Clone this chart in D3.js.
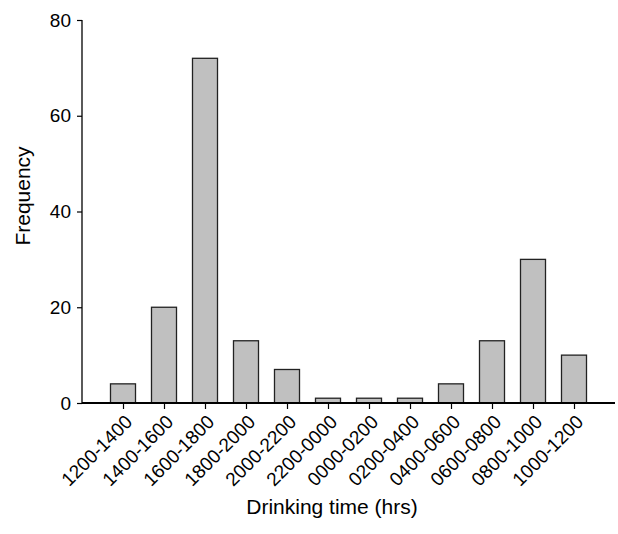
<!DOCTYPE html>
<html>
<head>
<meta charset="utf-8">
<script src="https://cdn.jsdelivr.net/npm/d3@7"></script>
<style>
  body { margin: 0; background: #fff; }
  text { font-family: "Liberation Sans", Arial, Helvetica, sans-serif; fill: #000; }
</style>
</head>
<body>
<div id="chart"></div>
<script>
// drinking time bins and how often each occurred
var categories = ["1200-1400", "1400-1600", "1600-1800", "1800-2000", "2000-2200", "2200-0000",
                  "0000-0200", "0200-0400", "0400-0600", "0600-0800", "0800-1000", "1000-1200"];
var frequency = [4, 20, 72, 13, 7, 1, 1, 1, 4, 13, 30, 10];
var yTicks = [0, 20, 40, 60, 80];

var width = 618, height = 534;
var plotLeft = 82, plotRight = 615, plotTop = 20, plotBottom = 403;

var svg = d3.select("#chart").append("svg")
    .attr("width", width)
    .attr("height", height);

var x = d3.scalePoint().domain(categories).range([plotLeft, plotRight]).padding(1);
var y = d3.scaleLinear().domain([0, 80]).range([plotBottom, plotTop]);
var barW = x.step() * 0.61;

// bars
svg.append("g").selectAll("rect")
    .data(frequency)
    .enter().append("rect")
    .attr("x", function (d, i) { return x(categories[i]) - barW / 2; })
    .attr("y", function (d) { return y(d); })
    .attr("width", barW)
    .attr("height", function (d) { return y(0) - y(d); })
    .attr("fill", "#c0c0c0")
    .attr("stroke", "#222")
    .attr("stroke-width", 1.3);

// y axis
var yAxis = svg.append("g")
    .attr("transform", "translate(" + plotLeft + ",0)")
    .call(d3.axisLeft(y).tickValues(yTicks).tickSize(5).tickPadding(6));
yAxis.select(".domain").attr("d", "M0," + plotTop + "V" + plotBottom)
    .attr("stroke", "#000").attr("stroke-width", 1.3);
yAxis.selectAll(".tick line").attr("stroke", "#000").attr("stroke-width", 1.2);
yAxis.selectAll("text").style("font-size", "19px").style("font-family", "Liberation Sans, Arial, sans-serif").attr("fill", "#000");

// x axis
var xAxis = svg.append("g")
    .attr("transform", "translate(0," + plotBottom + ")")
    .call(d3.axisBottom(x).tickSize(6).tickSizeOuter(0));
xAxis.select(".domain").attr("d", "M" + plotLeft + ",0H" + plotRight)
    .attr("stroke", "#000").attr("stroke-width", 2);
xAxis.selectAll(".tick line").attr("stroke", "#000").attr("stroke-width", 1.2);
xAxis.selectAll("text")
    .style("font-size", "19px")
    .style("font-family", "Liberation Sans, Arial, sans-serif")
    .attr("fill", "#000")
    .attr("text-anchor", "end")
    .attr("dy", null)
    .attr("y", 0)
    .attr("transform", "translate(10,20) rotate(-45)");

// axis titles
svg.append("text")
    .attr("transform", "translate(30,196) rotate(-90)")
    .attr("text-anchor", "middle")
    .style("font-size", "21px")
    .text("Frequency");

svg.append("text")
    .attr("x", 332)
    .attr("y", 514)
    .attr("text-anchor", "middle")
    .style("font-size", "21px")
    .text("Drinking time (hrs)");
</script>
</body>
</html>
